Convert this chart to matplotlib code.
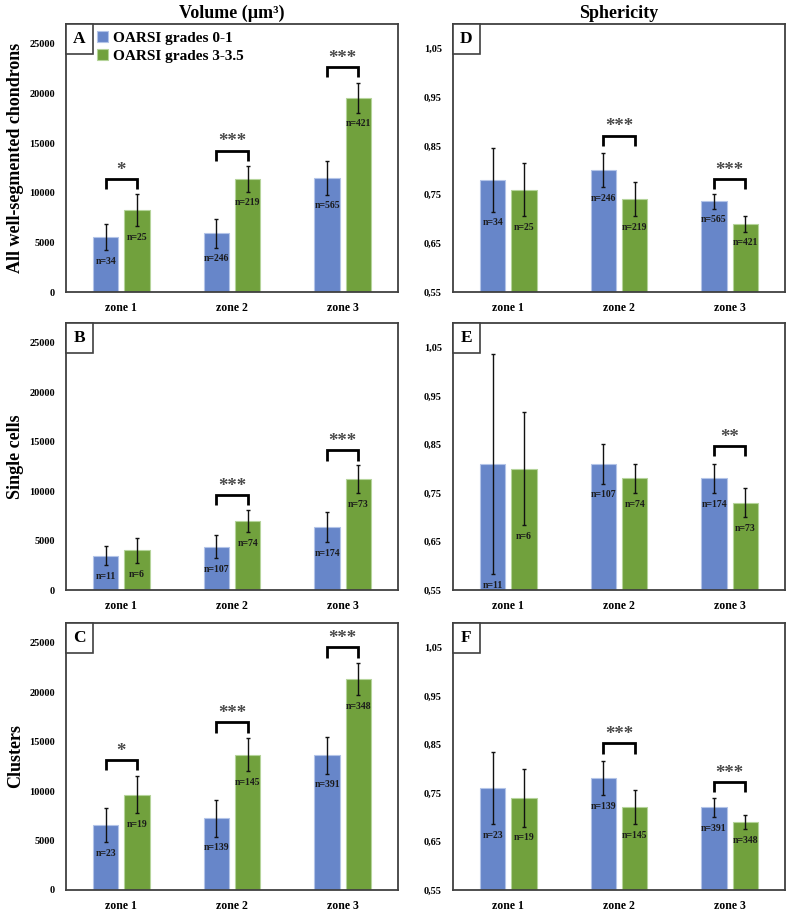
import matplotlib
matplotlib.use("Agg")
import matplotlib.pyplot as plt
from matplotlib.patches import Rectangle

plt.rcParams['font.family'] = ['Liberation Serif', 'DejaVu Serif']
plt.rcParams['font.weight'] = 'bold'

zones = ['zone 1', 'zone 2', 'zone 3']
series = ['OARSI grades 0-1', 'OARSI grades 3-3.5']

vol_yticks = [0, 5000, 10000, 15000, 20000, 25000]
vol_ticklabels = ['0', '5000', '10000', '15000', '20000', '25000']
sph_yticks = [0.55, 0.65, 0.75, 0.85, 0.95, 1.05]
sph_ticklabels = ['0,55', '0,65', '0,75', '0,85', '0,95', '1,05']

# A: volume, all well-segmented chondrons
volA_low = [5550, 5900, 11500]
volA_low_err = [1330, 1430, 1680]
volA_high = [8250, 11400, 19550]
volA_high_err = [1620, 1310, 1480]
volA_n_low = ['n=34', 'n=246', 'n=565']
volA_n_high = ['n=25', 'n=219', 'n=421']
volA_sig_zone = [0, 1, 2]
volA_sig_text = ['*', '***', '***']
volA_sig_y = [11400, 14250, 22700]

# B: volume, single cells
volB_low = [3450, 4400, 6350]
volB_low_err = [960, 1180, 1500]
volB_high = [4000, 6950, 11200]
volB_high_err = [1280, 1100, 1415]
volB_n_low = ['n=11', 'n=107', 'n=174']
volB_n_high = ['n=6', 'n=74', 'n=73']
volB_sig_zone = [1, 2]
volB_sig_text = ['***', '***']
volB_sig_y = [9640, 14120]

# C: volume, clusters
volC_low = [6550, 7250, 13600]
volC_low_err = [1720, 1850, 1840]
volC_high = [9650, 13700, 21300]
volC_high_err = [1870, 1680, 1630]
volC_n_low = ['n=23', 'n=139', 'n=391']
volC_n_high = ['n=19', 'n=145', 'n=348']
volC_sig_zone = [0, 1, 2]
volC_sig_text = ['*', '***', '***']
volC_sig_y = [13140, 16950, 24530]

# D: sphericity, all
sphD_low = [0.78, 0.80, 0.736]
sphD_low_err = [0.065, 0.035, 0.015]
sphD_high = [0.76, 0.74, 0.69]
sphD_high_err = [0.055, 0.035, 0.016]
sphD_sig_zone = [1, 2]
sphD_sig_text = ['***', '***']
sphD_sig_y = [0.871, 0.782]

# E: sphericity, single cells
sphE_low = [0.81, 0.81, 0.78]
sphE_low_err = [0.227, 0.041, 0.03]
sphE_high = [0.80, 0.78, 0.73]
sphE_high_err = [0.116, 0.03, 0.03]
sphE_sig_zone = [2]
sphE_sig_text = ['**']
sphE_sig_y = [0.846]

# F: sphericity, clusters
sphF_low = [0.76, 0.78, 0.72]
sphF_low_err = [0.075, 0.035, 0.02]
sphF_high = [0.74, 0.72, 0.69]
sphF_high_err = [0.06, 0.035, 0.015]
sphF_sig_zone = [1, 2]
sphF_sig_text = ['***', '***']
sphF_sig_y = [0.852, 0.772]

BLUE = '#6786C9'
GREEN = '#71A13D'
BLUE_EDGE = '#B3C4E8'
GREEN_EDGE = '#B5D49A'
SPINE = '#404040'

W = 0.23
OFF = 0.142


def panel(ax, low, low_err, high, high_err, n_low, n_high, sig_zone, sig_text,
          sig_y, ylim, yticks, yticklabels, letter):
    x = list(range(len(zones)))
    xl = [i - OFF for i in x]
    xh = [i + OFF for i in x]
    ax.bar(xl, low, W, color=BLUE, edgecolor=BLUE_EDGE, linewidth=0.8,
           label=series[0], zorder=2)
    ax.bar(xh, high, W, color=GREEN, edgecolor=GREEN_EDGE, linewidth=0.8,
           label=series[1], zorder=2)
    ax.errorbar(xl, low, yerr=low_err, fmt='none', ecolor='#111111',
                elinewidth=1.0, capsize=1.6, capthick=1.0, zorder=3)
    ax.errorbar(xh, high, yerr=high_err, fmt='none', ecolor='#111111',
                elinewidth=1.0, capsize=1.6, capthick=1.0, zorder=3)
    for xs, vals, errs, labs in ((xl, low, low_err, n_low), (xh, high, high_err, n_high)):
        for xi, v, e, t in zip(xs, vals, errs, labs):
            ax.annotate(t, (xi, v - e), xytext=(0, -8), textcoords='offset points',
                        ha='center', va='center', fontsize=7,
                        fontweight='bold', color='#1a1a1a', zorder=4)
    leg = 0.038 * (ylim[1] - ylim[0])
    for z, t, y in zip(sig_zone, sig_text, sig_y):
        ax.plot([z - OFF, z - OFF, z + OFF, z + OFF], [y - leg, y, y, y - leg],
                color='black', lw=2.0, solid_joinstyle='miter',
                solid_capstyle='butt', zorder=4)
        ax.annotate(t, (z, y), xytext=(0, 3), textcoords='offset points',
                    ha='center', va='baseline', fontsize=13.5, color='#4a4a4a',
                    fontweight='bold')
    ax.set_xlim(-0.5, 2.5)
    ax.set_ylim(*ylim)
    ax.set_xticks(x)
    ax.set_xticklabels(zones, fontsize=8.5, fontweight='bold')
    ax.set_yticks(yticks)
    ax.set_yticklabels(yticklabels, fontsize=7.5, fontweight='bold')
    ax.tick_params(axis='both', length=0)
    ax.tick_params(axis='x', pad=7)
    ax.tick_params(axis='y', pad=8)
    for s in ax.spines.values():
        s.set_color(SPINE)
        s.set_linewidth(1.3)
    ax.add_patch(Rectangle((0, 1 - 0.112), 0.08, 0.112, transform=ax.transAxes,
                           facecolor='white', edgecolor=SPINE, lw=1.2, zorder=5,
                           clip_on=False))
    ax.text(0.04, 1 - 0.056, letter, transform=ax.transAxes, ha='center',
            va='center', fontsize=12.5, fontweight='bold', zorder=6)


fig = plt.figure(figsize=(7.87, 9.10), dpi=100)
lefts = [0.0839, 0.5756]
width = 0.4219
bottoms = [0.6791, 0.3516, 0.0220]
heights = [0.2945, 0.2934, 0.2934]

axA = fig.add_axes([lefts[0], bottoms[0], width, heights[0]])
axB = fig.add_axes([lefts[0], bottoms[1], width, heights[1]])
axC = fig.add_axes([lefts[0], bottoms[2], width, heights[2]])
axD = fig.add_axes([lefts[1], bottoms[0], width, heights[0]])
axE = fig.add_axes([lefts[1], bottoms[1], width, heights[1]])
axF = fig.add_axes([lefts[1], bottoms[2], width, heights[2]])

vlim = (0, 27000)
slim = (0.55, 1.1)
panel(axA, volA_low, volA_low_err, volA_high, volA_high_err, volA_n_low, volA_n_high,
      volA_sig_zone, volA_sig_text, volA_sig_y, vlim, vol_yticks, vol_ticklabels, 'A')
panel(axB, volB_low, volB_low_err, volB_high, volB_high_err, volB_n_low, volB_n_high,
      volB_sig_zone, volB_sig_text, volB_sig_y, vlim, vol_yticks, vol_ticklabels, 'B')
panel(axC, volC_low, volC_low_err, volC_high, volC_high_err, volC_n_low, volC_n_high,
      volC_sig_zone, volC_sig_text, volC_sig_y, vlim, vol_yticks, vol_ticklabels, 'C')
panel(axD, sphD_low, sphD_low_err, sphD_high, sphD_high_err, volA_n_low, volA_n_high,
      sphD_sig_zone, sphD_sig_text, sphD_sig_y, slim, sph_yticks, sph_ticklabels, 'D')
panel(axE, sphE_low, sphE_low_err, sphE_high, sphE_high_err, volB_n_low, volB_n_high,
      sphE_sig_zone, sphE_sig_text, sphE_sig_y, slim, sph_yticks, sph_ticklabels, 'E')
panel(axF, sphF_low, sphF_low_err, sphF_high, sphF_high_err, volC_n_low, volC_n_high,
      sphF_sig_zone, sphF_sig_text, sphF_sig_y, slim, sph_yticks, sph_ticklabels, 'F')

axA.legend(loc='upper left', bbox_to_anchor=(0.085, 0.985), frameon=False,
           prop={'size': 11, 'weight': 'bold'}, handlelength=0.7, handleheight=0.7,
           handletextpad=0.35, labelspacing=0.3, borderpad=0.2, borderaxespad=0)

fig.text(0.2948, 0.985, 'Volume (µm³)', ha='center', va='center', fontsize=13,
         fontweight='bold')
fig.text(0.7865, 0.985, 'Sphericity', ha='center', va='center', fontsize=13,
         fontweight='bold')
fig.text(0.020, bottoms[0] + heights[0] / 2, 'All well-segmented chondrons',
         rotation=90, ha='center', va='center', fontsize=13, fontweight='bold')
fig.text(0.020, bottoms[1] + heights[1] / 2, 'Single cells',
         rotation=90, ha='center', va='center', fontsize=13, fontweight='bold')
fig.text(0.020, bottoms[2] + heights[2] / 2, 'Clusters',
         rotation=90, ha='center', va='center', fontsize=13, fontweight='bold')

fig.savefig('out.png', dpi=100)
